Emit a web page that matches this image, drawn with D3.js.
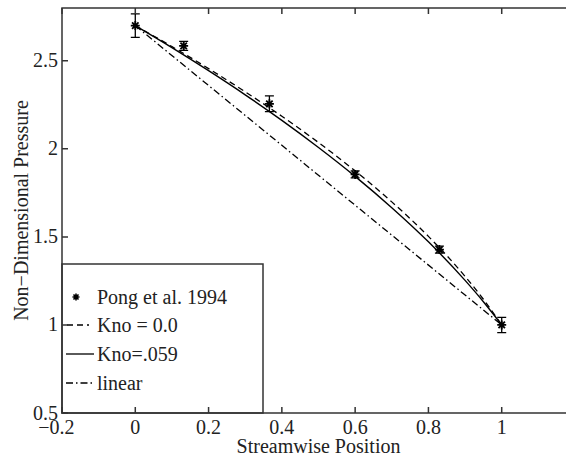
<!DOCTYPE html>
<html>
<head>
<meta charset="utf-8">
<script src="https://cdn.jsdelivr.net/npm/d3@7"></script>
<style>
  html, body { margin: 0; padding: 0; background: #fff; }
  svg { display: block; }
</style>
</head>
<body>
<svg id="chart" width="566" height="459"></svg>
<script>
// ---- data ----
const pongX   = [0, 0.132, 0.366, 0.60, 0.83, 1.0];
const pongY   = [2.70, 2.585, 2.256, 1.855, 1.428, 1.0];
const pongErr = [0.067, 0.026, 0.045, 0.02, 0.02, 0.043];

const curveX   = [0, 0.1, 0.2, 0.3, 0.4, 0.5, 0.6, 0.7, 0.8, 0.9, 0.95, 1.0];
const kno0Y    = [2.700, 2.581, 2.456, 2.324, 2.185, 2.036, 1.875, 1.699, 1.503, 1.276, 1.146, 1.000];
const kno059Y  = [2.700, 2.575, 2.444, 2.307, 2.162, 2.008, 1.844, 1.666, 1.472, 1.253, 1.132, 1.000];
const linearX  = [0, 1];
const linearY  = [2.7, 1.0];

const xTicks = [-0.2, 0, 0.2, 0.4, 0.6, 0.8, 1];
const yTicks = [0.5, 1, 1.5, 2, 2.5];
const xLabel = "Streamwise Position";
const yLabel = "Non\u2212Dimensional Pressure";
const legendLabels = ["Pong et al. 1994", "Kno = 0.0", "Kno=.059", "linear"];

// ---- layout ----
const FONT = "Liberation Serif";
const svg = d3.select("#chart");
const x = d3.scaleLinear().domain([-0.2, 1.2]).range([62, 575]);
const y = d3.scaleLinear().domain([0.5, 2.8]).range([413, 8]);
const axisColor = "#333";
const textColor = "#222";
const FS = 20;

function addText(g) {
  return g.append("text").style("font-family", FONT).attr("font-size", FS).attr("fill", textColor);
}

const line = d3.line().x(d => x(d[0])).y(d => y(d[1])).curve(d3.curveMonotoneX);

const plot = svg.append("g");

// curves
const dashStyles = { k0: "6,4", lin: "7,3,1.5,3" };
plot.append("path").datum(linearX.map((v, i) => [v, linearY[i]]))
  .attr("d", line).attr("fill", "none").attr("stroke", "#000").attr("stroke-width", 1.3)
  .attr("stroke-dasharray", dashStyles.lin);
plot.append("path").datum(curveX.map((v, i) => [v, kno0Y[i]]))
  .attr("d", line).attr("fill", "none").attr("stroke", "#000").attr("stroke-width", 1.3)
  .attr("stroke-dasharray", dashStyles.k0);
plot.append("path").datum(curveX.map((v, i) => [v, kno059Y[i]]))
  .attr("d", line).attr("fill", "none").attr("stroke", "#000").attr("stroke-width", 1.4);

// asterisk marker
function asterisk(g, cx, cy, r, w) {
  const p = d3.path();
  p.moveTo(cx - r, cy); p.lineTo(cx + r, cy);
  p.moveTo(cx, cy - r); p.lineTo(cx, cy + r);
  const d = r * 0.72;
  p.moveTo(cx - d, cy - d); p.lineTo(cx + d, cy + d);
  p.moveTo(cx - d, cy + d); p.lineTo(cx + d, cy - d);
  g.append("path").attr("d", p.toString()).attr("stroke", "#000").attr("stroke-width", w).attr("fill", "none");
}

// error bars + markers
pongX.forEach((xv, i) => {
  const g = plot.append("g");
  const cx = x(xv), y0 = y(pongY[i] - pongErr[i]), y1 = y(pongY[i] + pongErr[i]);
  const cap = 4.5;
  g.append("path")
    .attr("d", `M${cx},${y0}V${y1}M${cx - cap},${y0}H${cx + cap}M${cx - cap},${y1}H${cx + cap}`)
    .attr("stroke", "#000").attr("stroke-width", 1.3).attr("fill", "none");
  asterisk(g, cx, y(pongY[i]), 4.5, 1.8);
});

// ---- legend ----
const lg = svg.append("g");
const lgTop = 264;
lg.append("rect").attr("x", x(-0.2)).attr("y", lgTop).attr("width", 263 - x(-0.2)).attr("height", y(0.5) - lgTop)
  .attr("fill", "#fff").attr("stroke", axisColor).attr("stroke-width", 1.5);
const rowY = [297, 325, 354, 383];
legendLabels.forEach((lab, i) => {
  const yy = rowY[i];
  if (i === 0) {
    asterisk(lg, 76, yy, 3.5, 1.6);
  } else {
    const ln = lg.append("line").attr("x1", 66).attr("x2", 94).attr("y1", yy).attr("y2", yy)
      .attr("stroke", "#000").attr("stroke-width", 1.3);
    if (i === 1) ln.attr("stroke-dasharray", dashStyles.k0).attr("x1", 67).attr("x2", 89);
    if (i === 3) ln.attr("stroke-dasharray", dashStyles.lin);
  }
  addText(lg).attr("x", 97).attr("y", yy + 6.5).text(lab);
});

// ---- axes box and ticks ----
const ax = svg.append("g");
const x0 = x(-0.2), x1 = x(1.2), yT = y(2.8), yB = y(0.5);
ax.append("path").attr("d", `M${x0},${yT}H${x1}V${yB}H${x0}Z`)
  .attr("fill", "none").attr("stroke", axisColor).attr("stroke-width", 1.5);
const tl = 6;
xTicks.forEach(t => {
  ax.append("path").attr("d", `M${x(t)},${yB}v${-tl}M${x(t)},${yT}v${tl}`)
    .attr("stroke", axisColor).attr("stroke-width", 1.5);
  const txt = addText(ax).attr("x", x(t)).attr("y", 434)
    .attr("text-anchor", "middle").text(d3.format("")(Math.abs(t)));
  if (t < 0) {
    const w = txt.node().getComputedTextLength();
    addText(ax).attr("x", x(t) - w / 2).attr("y", 434)
      .attr("text-anchor", "end").text("\u2212");
  }
});
yTicks.forEach(t => {
  ax.append("path").attr("d", `M${x0},${y(t)}h${tl}M${x1},${y(t)}h${-tl}`)
    .attr("stroke", axisColor).attr("stroke-width", 1.5);
  addText(ax).attr("x", 58).attr("y", y(t) + 6.5)
    .attr("text-anchor", "end").text(t);
});

// axis labels
addText(svg).attr("x", (x0 + x1) / 2).attr("y", 453)
  .attr("text-anchor", "middle").text(xLabel);
addText(svg).attr("transform", `translate(28,${(yT + yB) / 2}) rotate(-90)`)
  .attr("text-anchor", "middle").text(yLabel);
</script>
</body>
</html>
